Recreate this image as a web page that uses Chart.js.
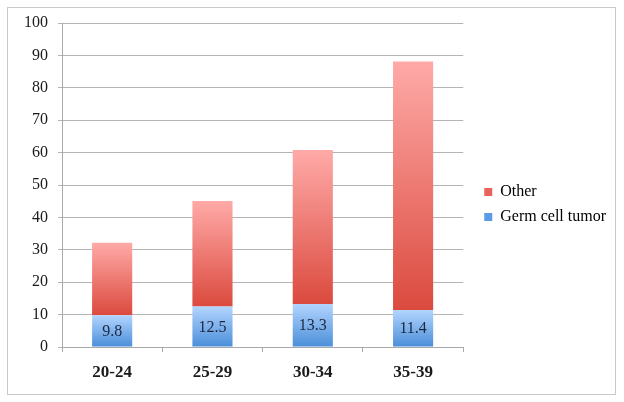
<!DOCTYPE html>
<html>
<head>
<meta charset="utf-8">
<script src="https://cdn.jsdelivr.net/npm/chart.js@4/dist/chart.umd.min.js"></script>
<style>
    html, body { margin: 0; padding: 0; background: #fff; }
    #frame {
        position: absolute;
        left: 7px;
        top: 7px;
        width: 607px;
        height: 386px;
        border: 1px solid #c9c9c9;
    }
</style>
</head>
<body>
<div id="frame"><canvas id="ageChart" width="607" height="386"></canvas></div>
<script>
const ageGroups = ['20-24', '25-29', '30-34', '35-39'];
const germCellValues = [9.8, 12.5, 13.3, 11.4];
const otherValues = [22.4, 32.6, 47.5, 76.7];
const yTicks = [0, 10, 20, 30, 40, 50, 60, 70, 80, 90, 100];

const fontFamily = '"Liberation Serif", "Times New Roman", serif';

// vertical gradient for each bar, from its top value down to its base value
function barGradient(context, topColor, bottomColor) {
    const chart = context.chart;
    const yScale = chart.scales.y;
    if (!chart.chartArea || !yScale || context.dataIndex === undefined) {
        return bottomColor;
    }
    const i = context.dataIndex;
    let base = 0;
    let top = germCellValues[i];
    if (context.datasetIndex === 1) {
        base = germCellValues[i];
        top = germCellValues[i] + otherValues[i];
    }
    const yTop = yScale.getPixelForValue(top);
    const yBase = yScale.getPixelForValue(base);
    const g = chart.ctx.createLinearGradient(0, yTop, 0, yBase);
    g.addColorStop(0, topColor);
    g.addColorStop(1, bottomColor);
    return g;
}

// value labels inside the germ cell bars
const valueLabels = {
    id: 'valueLabels',
    afterDatasetsDraw(chart) {
        const ctx = chart.ctx;
        const meta = chart.getDatasetMeta(0);
        ctx.save();
        ctx.font = '16px ' + fontFamily;
        ctx.fillStyle = '#1d2740';
        ctx.textAlign = 'center';
        ctx.textBaseline = 'middle';
        meta.data.forEach((bar, index) => {
            const mid = (bar.y + bar.base) / 2;
            ctx.fillText(germCellValues[index].toFixed(1), bar.x, mid + 1);
        });
        ctx.restore();
    }
};

// nudge the legend away from the plot and a little up
const legendOffset = {
    id: 'legendOffset',
    afterLayout(chart) {
        chart.legend.left += 12;
        chart.legend.right += 12;
        chart.legend.top -= 4;
        chart.legend.bottom -= 4;
    }
};

const ctx = document.getElementById('ageChart').getContext('2d');
new Chart(ctx, {
    type: 'bar',
    data: {
        labels: ageGroups,
        datasets: [
            {
                label: 'Germ cell tumor',
                data: germCellValues,
                backgroundColor: (c) => barGradient(c, '#b3d5ff', '#4a8ed9'),
                borderWidth: 0,
                categoryPercentage: 1,
                barPercentage: 0.4,
            },
            {
                label: 'Other',
                data: otherValues,
                backgroundColor: (c) => barGradient(c, '#ffaaa8', '#db4a3e'),
                borderWidth: 0,
                categoryPercentage: 1,
                barPercentage: 0.4,
            },
        ],
    },
    options: {
        responsive: false,
        animation: false,
        layout: {
            padding: { top: 15, right: 11, left: 0, bottom: 0 },
        },
        plugins: {
            legend: {
                position: 'right',
                reverse: true,
                labels: {
                    boxWidth: 8,
                    boxHeight: 8,
                    padding: 9,
                    color: '#1a1a1a',
                    font: { family: fontFamily, size: 16 },
                    generateLabels(chart) {
                        return chart.data.datasets.map((ds, i) => ({
                            text: ds.label,
                            fillStyle: i === 0 ? '#5c9ce6' : '#e8635b',
                            strokeStyle: 'transparent',
                            lineWidth: 0,
                            datasetIndex: i,
                        }));
                    },
                },
            },
            tooltip: { enabled: false },
        },
        scales: {
            x: {
                stacked: true,
                grid: {
                    offset: true,
                    drawOnChartArea: false,
                    drawTicks: true,
                    tickLength: 5,
                    color: '#a8a8a8',
                },
                border: { color: '#a8a8a8' },
                ticks: {
                    color: '#1a1a1a',
                    padding: 10,
                    font: { family: fontFamily, size: 17, weight: 'bold' },
                },
                afterFit(axis) { axis.height = 47; },
            },
            y: {
                stacked: true,
                min: 0,
                max: 100,
                afterBuildTicks(axis) {
                    axis.ticks = yTicks.map(v => ({ value: v }));
                },
                grid: {
                    color: '#b4b4b4',
                    tickLength: 4,
                },
                border: { color: '#a8a8a8' },
                ticks: {
                    color: '#1a1a1a',
                    padding: 10,
                    font: { family: fontFamily, size: 16 },
                },
                afterFit(axis) {
                    axis.width = 54;
                    axis.paddingTop = 0;
                    axis.paddingBottom = 0;
                },
            },
        },
    },
    plugins: [valueLabels, legendOffset],
});
</script>
</body>
</html>
